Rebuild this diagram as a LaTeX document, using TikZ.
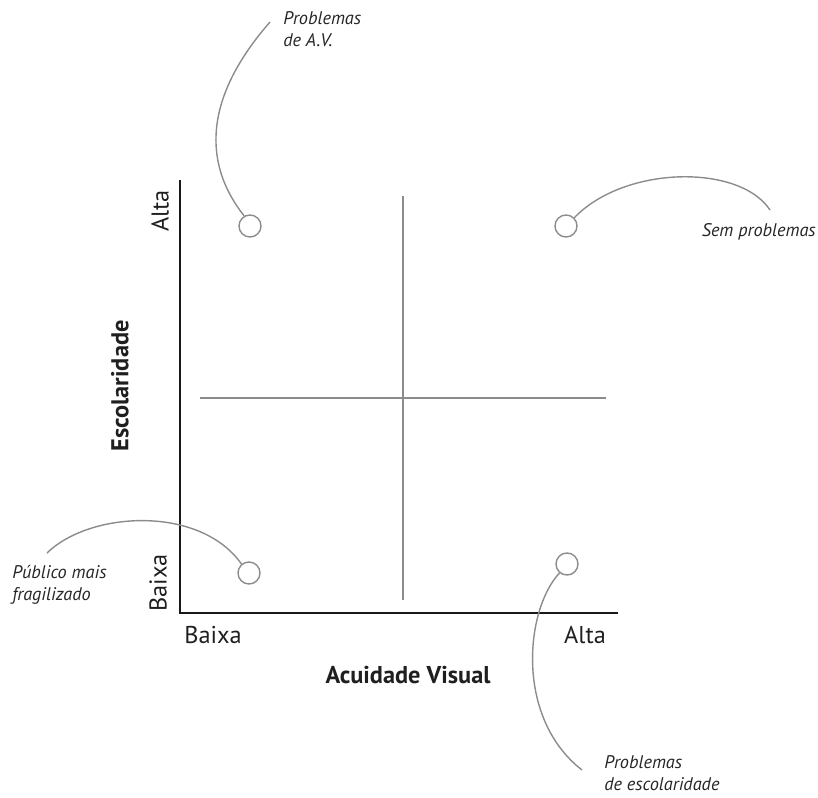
\documentclass[tikz,border=0pt]{standalone}
\usepackage{fontspec}
\setmainfont{PT Sans}
\begin{document}
\begin{tikzpicture}[x=0.025cm, y=-0.025cm,
  axislbl/.style={text=black!88, inner sep=0pt, font=\fontsize{17.3}{20}\selectfont},
  axistitle/.style={axislbl, font=\fontsize{17.3}{20}\selectfont\bfseries},
  note/.style={text=black!85, inner sep=0pt, align=left, font=\fontsize{13}{16}\selectfont\itshape},
  dot/.style={circle, draw=black!45, line width=1pt, minimum size=0.55cm, inner sep=0pt},
  lead/.style={black!45, line width=1pt},
  quad/.style={black!45, line width=1pt}]
\useasboundingbox (0,0) rectangle (818,798);
\coordinate (ytop) at (180,180);
\coordinate (orig) at (180,613);
\coordinate (xend) at (618,613);
\draw[black!90, line width=1.4pt] (ytop) -- (orig) -- (xend);
\coordinate (vtop) at (403,196);
\coordinate (vbot) at (403,600);
\coordinate (hleft) at (200,398);
\coordinate (hright) at (606,398);
\draw[quad] (vtop) -- (vbot);
\draw[quad] (hleft) -- (hright);
\node[axislbl, rotate=90] (yhigh) at (160,211) {Alta};
\node[axislbl, rotate=90] (ylow) at (158,583) {Baixa};
\node[axislbl] (xlow) at (213,635) {Baixa};
\node[axislbl] (xhigh) at (585,635) {Alta};
\node[axistitle] (xtitle) at (408,675) {Acuidade Visual};
\node[axistitle, rotate=90] (ytitle) at (120,386) {Escolaridade};
\node[dot] (av) at (250,226) {};
\node[dot] (sem) at (566,226) {};
\node[dot] (pub) at (249,573) {};
\node[dot] (esc) at (567,564) {};
\node[note, anchor=north west] (avtxt) at (283,11) {Problemas\\de A.V.};
\node[note, anchor=east] (semtxt) at (816,232) {Sem problemas};
\node[note, anchor=north west] (pubtxt) at (12,565) {Público mais\\fragilizado};
\node[note, anchor=north west] (esctxt) at (604,755) {Problemas\\de escolaridade};
\coordinate (avend) at (270,22);
\coordinate (semend) at (770,210);
\coordinate (pubend) at (47,553);
\coordinate (escend) at (582,770);
\draw[lead] (av.120) .. controls (200,160) and (207,94) .. (avend);
\draw[lead] (sem.45) .. controls (625,165) and (740,164) .. (semend);
\draw[lead] (pub.130) .. controls (200,505) and (90,511) .. (pubend);
\draw[lead] (esc.230) .. controls (525,610) and (515,718) .. (escend);
\end{tikzpicture}
\end{document}
